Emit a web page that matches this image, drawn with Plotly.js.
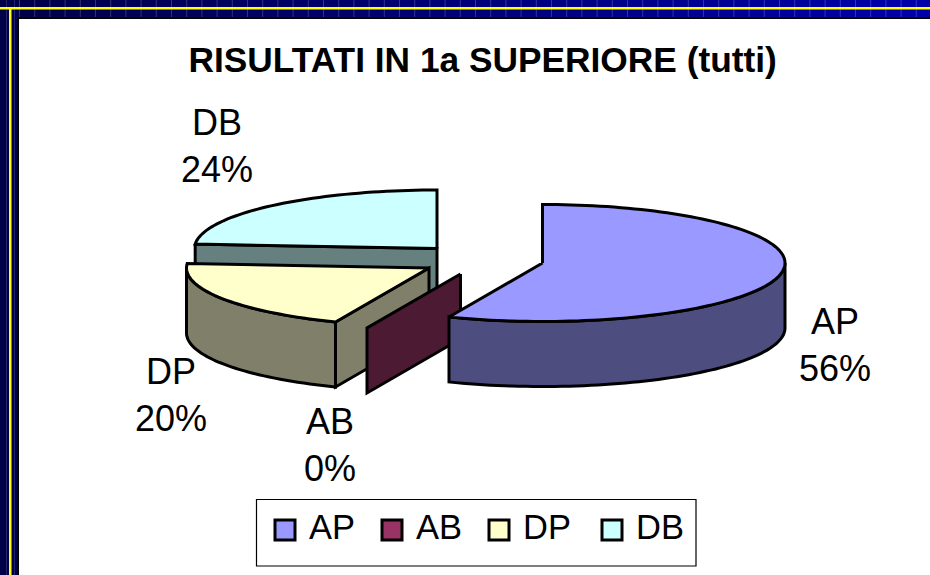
<!DOCTYPE html>
<html><head><meta charset="utf-8">
<script src="https://cdn.plot.ly/plotly-3.0.1.min.js"></script>
<style>html,body{margin:0;padding:0;background:#fff}#c{width:930px;height:575px}</style>
</head><body><div id="c"></div>
<script>
// Data
const categories = ['AP','AB','DP','DB'];
const values = [56.3,0,19.9,23.8];
const topColors = ['#9999ff','#993366','#ffffcc','#ccffff'];
const sideColors = ['#4d4d80','#4d1a33','#80806a','#668080'];
const chartTitle = 'RISULTATI IN 1a SUPERIORE (tutti)';

// Projection of the tilted pie (pixel space of the hidden axes)
const RX=242.5, RY=58.5, DEPTH=65;
const centres = {AP:[542.5,263],AB:[460.5,274],DP:[429,268],DB:[437,248.5]};
const labelPos = {AP:[835,345],AB:[330,445],DP:[171,395],DB:[217,146]};
const legendMarkerX = {AP:285,AB:392,DP:499,DB:612};
const legendTextOffset = 10;
const FONT='Liberation Sans, Arial, sans-serif';
const total = values.reduce((a,b)=>a+b,0);

function pt(c,a,dy){return [c[0]+RX*Math.sin(a), c[1]-RY*Math.cos(a)+(dy||0)];}
function poly(points,color,lw){
  return {type:'scatter',mode:'lines',x:points.map(p=>p[0]),y:points.map(p=>p[1]),
    fill:'toself',fillcolor:color,line:{color:'#000',width:lw||3,simplify:false},
    hoverinfo:'skip',showlegend:false};
}
function arc(c,a0,a1,dy){
  const n=Math.max(2,Math.ceil(Math.abs(a1-a0)/0.03)),o=[];
  for(let i=0;i<=n;i++)o.push(pt(c,a0+(a1-a0)*i/n,dy));
  return o;
}
// angular spans from the values
const spans={};let acc=0;
categories.forEach((k,i)=>{const s=acc/total*2*Math.PI;acc+=values[i];spans[k]=[s,acc/total*2*Math.PI];});

function sliceTraces(k){
  const i=categories.indexOf(k),c=centres[k],[a0,a1]=spans[k],side=sideColors[i],top=topColors[i],t=[];
  const v0=c, v1=[c[0],c[1]+DEPTH];
  if(a1===a0){ // zero share: a single radial plane
    const p=pt(c,a0), p1=pt(c,a0,DEPTH);
    t.push(poly([v0,p,p1,v1,v0],side));
    return t;
  }
  const ps=pt(c,a0),ps1=pt(c,a0,DEPTH);
  if(k!=='AP') t.push(poly([ps,v0,v1,ps1,ps],side));
  const lo=Math.max(a0,Math.PI/2), hi=Math.min(a1,1.5*Math.PI);
  if(hi>lo){
    const up=arc(c,lo,hi,0),dn=arc(c,hi,lo,DEPTH);
    const w=up.concat(dn);w.push(up[0]);
    t.push(poly(w,side));
  }
  const a=arc(c,a0,a1,0),top_=[v0].concat(a);top_.push(v0);
  t.push(poly(top_,top));
  return t;
}
const traces=[...sliceTraces('DB'),...sliceTraces('DP'),...sliceTraces('AB'),...sliceTraces('AP')];

// Slide frame
const shapes=[];
function rect(x0,y0,x1,y1,c,line){shapes.push({type:'rect',xref:'x',yref:'y',x0,y0,x1,y1,fillcolor:c,line:line||{width:0},layer:'below'});}
const steps=31;
for(let i=0;i<steps;i++){
  const f=i/(steps-1),b=Math.round(72+(168-72)*f);
  rect(i*30,0,(i+1)*30,18,`rgb(0,0,${b})`);
}
rect(0,0,19,575,'#000048');
for(let x=19;x<930;x+=15.2){
  const f=x/930,b=Math.round(72+(168-72)*f);
  rect(x,0,x+1,18,`rgb(50,50,${b+30})`);
}
rect(6,0,7,575,'#24246c');
rect(14,0,15,575,'#24246c');
rect(0,7,930,9.5,'#ffff00');
rect(9,7,11.5,575,'#ffff00');
rect(18,17,930,19,'#000000');
rect(17,17,19,575,'#000000');
// legend box
rect(256.5,499.5,696,566,'#ffffff',{color:'#000',width:1.2});

// legend entries, drawn as real markers + text
categories.forEach((k,i)=>{
  traces.push({type:'scatter',mode:'markers',x:[legendMarkerX[k]],y:[530],
    marker:{symbol:'square',size:20,color:topColors[i],line:{color:'#000',width:3}},
    hoverinfo:'skip',showlegend:false,name:k});
});
const annotations=categories.map((k,i)=>({
  xref:'x',yref:'y',x:labelPos[k][0],y:labelPos[k][1],showarrow:false,align:'center',
  text:k+'<br>'+Math.round(values[i]/total*100)+'%',
  font:{family:FONT,size:36,color:'#000'}
})).concat(categories.map(k=>({
  xref:'x',yref:'y',x:legendMarkerX[k]+12+legendTextOffset,y:527,xanchor:'left',showarrow:false,
  text:k,font:{family:FONT,size:34.5,color:'#000'}
})));

Plotly.newPlot('c',traces,{
  width:930,height:575,margin:{l:0,r:0,t:0,b:0},showlegend:false,
  paper_bgcolor:'#fff',plot_bgcolor:'rgba(0,0,0,0)',
  title:{text:'<b>'+chartTitle+'</b>',x:0.519,xanchor:'center',y:0.897,yanchor:'middle',
    font:{family:FONT,size:35.3,color:'#000'}},
  xaxis:{range:[0,930],visible:false,fixedrange:true},
  yaxis:{range:[575,0],visible:false,fixedrange:true},
  shapes,annotations
},{displayModeBar:false,staticPlot:true});
</script></body></html>
